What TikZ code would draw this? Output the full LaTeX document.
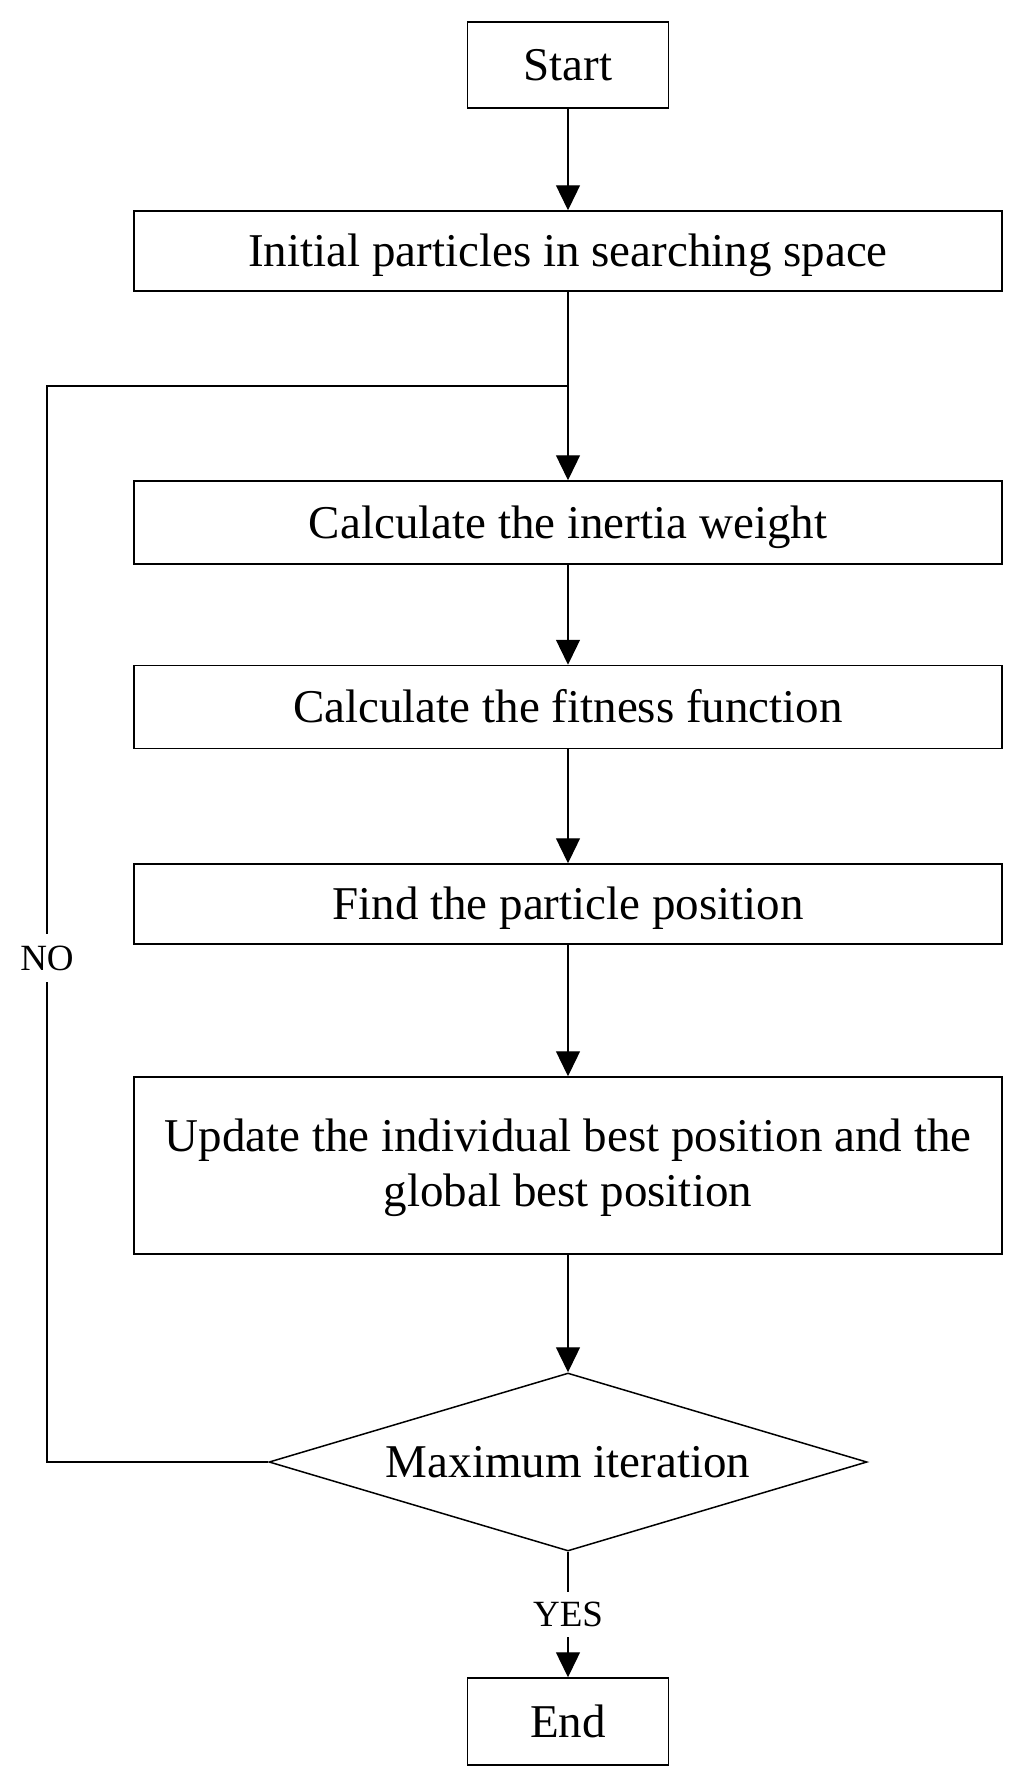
\documentclass[tikz,border=0pt]{standalone}
\usepackage{fontspec}
\setmainfont{Liberation Serif}
\usetikzlibrary{arrows.meta,shapes.geometric}
\begin{document}
\begin{tikzpicture}[x=1bp,y=-1bp,
  box/.style={draw, line width=1.5bp, rectangle, inner sep=0pt,
    font=\fontsize{47bp}{48bp}\selectfont, text height=31bp, text depth=0pt},
  wide/.style={box, minimum width=868bp},
  small/.style={box, minimum width=201bp},
  ubox/.style={draw, line width=1.5bp, rectangle, inner sep=0pt, align=center,
    minimum width=868bp, minimum height=177bp,
    font=\fontsize{47bp}{55bp}\selectfont},
  dec/.style={draw, line width=1.5bp, diamond, aspect=3.4, inner sep=0pt,
    minimum width=598bp, minimum height=178bp,
    font=\fontsize{47bp}{48bp}\selectfont, text height=31bp, text depth=0pt},
  lbl/.style={inner sep=0pt, font=\fontsize{37bp}{40bp}\selectfont,
    text height=24.5bp, text depth=0pt},
  conn/.style={line width=1.3bp},
  arr/.style={conn, -{Triangle[length=25bp,width=24bp]}}
]
\useasboundingbox (0,0) rectangle (1024,1787);

\node[small, minimum height=86bp] (start) at (568,65) {Start};
\node[wide, minimum height=80bp] (init) at (568,251) {Initial particles in searching space};
\node[wide, minimum height=83bp] (inertia) at (568,522.5) {Calculate the inertia weight};
\node[wide, minimum height=83bp] (fit) at (568,707) {Calculate the fitness function};
\node[wide, minimum height=80bp] (find) at (568,904) {Find the particle position};
\node[ubox] (upd) at (568,1165.5) {\rule{0pt}{38bp}Update the individual best position and the\\global best position};
\node[dec] (dec) at (568,1462) {Maximum iteration};
\node[small, minimum height=87bp] (end) at (568,1721.5) {End};

\node[lbl, minimum height=48bp] (no) at (47,958) {NO};
\node[lbl, minimum height=45bp] (yes) at (568,1614.5) {YES};
\coordinate (j) at (568,386);

\draw[arr] (start) -- (init);
\draw[arr] (init) -- (inertia);
\draw[arr] (inertia) -- (fit);
\draw[arr] (fit) -- (find);
\draw[arr] (find) -- (upd);
\draw[arr] (upd) -- (dec);
\draw[conn] (dec.south) -- (yes.north);
\draw[arr] (yes.south) -- (end.north);
\draw[conn] (dec.west) -| (no.south);
\draw[conn] (no.north) |- (j);
\end{tikzpicture}
\end{document}
